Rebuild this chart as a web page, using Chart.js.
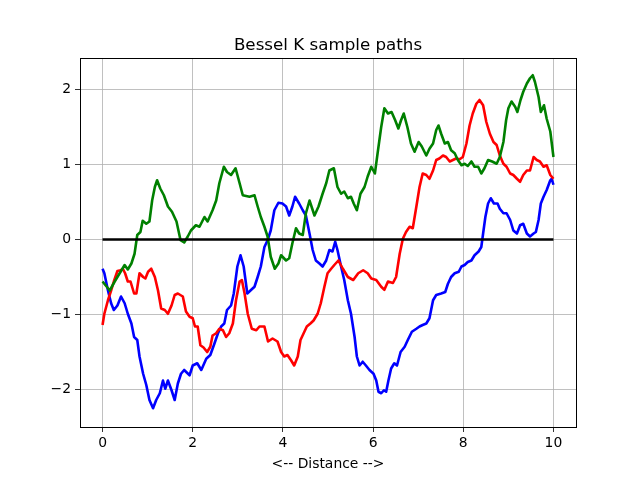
<!DOCTYPE html>
<html>
<head>
<meta charset="utf-8">
<script src="https://cdn.jsdelivr.net/npm/chart.js@4/dist/chart.umd.min.js"></script>
<style>
html,body{margin:0;padding:0;background:#fff;}
#wrap{width:640px;height:480px;}
</style>
</head>
<body>
<div id="wrap"><canvas id="c" width="640" height="480"></canvas></div>
<script>
const chartTitle = "Bessel K sample paths";
const xLabel = "<-- Distance -->";
const xTicks = [0, 2, 4, 6, 8, 10];
const yTicks = [-2, -1, 0, 1, 2];

const greenX = [0,0.16,0.27,0.38,0.49,0.56,0.64,0.71,0.77,0.84,0.89,0.97,1.04,1.10,1.16,1.21,1.28,1.36,1.45,1.54,1.64,1.73,1.81,1.89,1.96,2.07,2.15,2.26,2.33,2.44,2.52,2.59,2.69,2.76,2.85,2.95,3.04,3.11,3.26,3.37,3.44,3.51,3.59,3.66,3.73,3.82,3.90,3.96,4.07,4.14,4.21,4.29,4.36,4.44,4.51,4.59,4.70,4.79,4.88,4.96,5.03,5.13,5.21,5.29,5.36,5.44,5.51,5.57,5.64,5.72,5.81,5.88,5.96,6.04,6.10,6.18,6.25,6.33,6.41,6.49,6.56,6.62,6.68,6.76,6.84,6.92,7.01,7.08,7.18,7.25,7.33,7.40,7.45,7.51,7.59,7.66,7.73,7.81,7.88,7.96,8.03,8.10,8.18,8.25,8.33,8.40,8.47,8.55,8.64,8.74,8.81,8.89,8.95,9.00,9.07,9.15,9.20,9.27,9.33,9.41,9.48,9.54,9.59,9.67,9.72,9.79,9.85,9.93,10.0];
const greenY = [-0.56,-0.68,-0.56,-0.45,-0.34,-0.40,-0.32,-0.19,0.06,0.10,0.25,0.21,0.24,0.52,0.70,0.79,0.68,0.59,0.44,0.37,0.24,-0.01,-0.04,0.04,0.12,0.19,0.17,0.30,0.24,0.39,0.52,0.75,0.97,0.90,0.86,0.95,0.75,0.59,0.57,0.59,0.44,0.30,0.17,0.04,-0.23,-0.39,-0.32,-0.21,-0.28,-0.25,-0.05,0.15,0.08,0.06,0.35,0.52,0.32,0.44,0.61,0.75,0.92,0.95,0.70,0.61,0.64,0.55,0.57,0.48,0.39,0.61,0.70,0.84,0.97,0.88,1.15,1.50,1.75,1.68,1.70,1.59,1.48,1.59,1.68,1.50,1.28,1.17,1.30,1.24,1.12,1.21,1.28,1.46,1.52,1.41,1.28,1.30,1.19,1.15,1.06,0.99,1.01,0.98,1.04,0.97,0.97,0.88,0.95,1.06,1.04,1.01,1.10,1.30,1.59,1.75,1.84,1.77,1.70,1.86,1.97,2.08,2.15,2.19,2.10,1.90,1.70,1.79,1.61,1.44,1.10];

const redX = [0,0.04,0.12,0.19,0.25,0.33,0.40,0.45,0.50,0.56,0.62,0.70,0.75,0.82,0.90,0.95,1.01,1.08,1.16,1.23,1.30,1.38,1.45,1.53,1.60,1.67,1.78,1.85,1.93,2.00,2.05,2.11,2.17,2.24,2.32,2.39,2.44,2.52,2.59,2.67,2.74,2.81,2.89,2.96,3.04,3.09,3.15,3.22,3.31,3.41,3.48,3.59,3.67,3.77,3.88,3.96,4.03,4.10,4.18,4.25,4.33,4.39,4.46,4.53,4.61,4.68,4.77,4.84,4.92,4.99,5.07,5.14,5.23,5.33,5.44,5.56,5.67,5.78,5.88,5.96,6.07,6.18,6.25,6.33,6.44,6.51,6.59,6.66,6.73,6.81,6.88,6.96,7.03,7.10,7.18,7.25,7.33,7.40,7.47,7.55,7.62,7.70,7.77,7.84,7.92,7.99,8.07,8.14,8.21,8.29,8.36,8.44,8.51,8.59,8.67,8.74,8.81,8.89,8.96,9.04,9.11,9.19,9.26,9.33,9.41,9.48,9.56,9.63,9.70,9.78,9.85,9.93,10.0];
const redY = [-1.14,-0.99,-0.81,-0.68,-0.56,-0.42,-0.41,-0.39,-0.45,-0.56,-0.56,-0.72,-0.72,-0.45,-0.50,-0.52,-0.43,-0.39,-0.50,-0.68,-0.92,-0.94,-0.99,-0.88,-0.74,-0.72,-0.76,-0.96,-1.03,-1.05,-1.16,-1.16,-1.41,-1.44,-1.50,-1.43,-1.28,-1.25,-1.19,-1.21,-1.30,-1.25,-1.12,-0.81,-0.56,-0.54,-0.72,-0.99,-1.19,-1.21,-1.16,-1.16,-1.36,-1.32,-1.36,-1.50,-1.56,-1.54,-1.61,-1.68,-1.56,-1.34,-1.25,-1.16,-1.12,-1.08,-0.99,-0.85,-0.63,-0.45,-0.39,-0.34,-0.28,-0.39,-0.50,-0.54,-0.45,-0.41,-0.45,-0.52,-0.54,-0.63,-0.67,-0.56,-0.58,-0.50,-0.19,0.01,0.10,0.17,0.15,0.44,0.70,0.88,0.86,0.81,0.92,1.06,1.08,1.12,1.10,1.04,1.06,1.08,1.07,1.10,1.28,1.52,1.68,1.81,1.86,1.79,1.57,1.41,1.30,1.26,1.12,1.01,0.97,0.88,0.86,0.81,0.77,0.86,0.92,0.92,1.10,1.06,1.04,0.97,0.99,0.86,0.81];

const blueX = [0,0.04,0.12,0.19,0.25,0.33,0.41,0.49,0.56,0.64,0.70,0.77,0.82,0.90,0.97,1.04,1.12,1.19,1.27,1.34,1.39,1.45,1.53,1.60,1.67,1.74,1.81,1.93,2.00,2.10,2.19,2.30,2.39,2.48,2.56,2.63,2.70,2.76,2.85,2.91,2.99,3.06,3.13,3.21,3.28,3.37,3.44,3.51,3.59,3.66,3.73,3.81,3.90,3.99,4.07,4.14,4.21,4.27,4.36,4.44,4.51,4.59,4.66,4.73,4.81,4.88,4.96,5.03,5.10,5.16,5.21,5.29,5.36,5.44,5.51,5.59,5.64,5.70,5.77,5.84,5.92,6.01,6.07,6.12,6.18,6.24,6.29,6.34,6.40,6.47,6.53,6.61,6.70,6.77,6.86,6.96,7.03,7.10,7.18,7.25,7.33,7.40,7.51,7.60,7.66,7.73,7.81,7.90,7.96,8.03,8.10,8.18,8.25,8.34,8.40,8.44,8.49,8.55,8.61,8.68,8.76,8.81,8.89,8.96,9.04,9.11,9.19,9.26,9.33,9.41,9.48,9.56,9.61,9.67,9.72,9.78,9.85,9.93,9.96,10.0];
const blueY = [-0.39,-0.45,-0.68,-0.85,-0.94,-0.88,-0.76,-0.85,-0.99,-1.12,-1.30,-1.34,-1.56,-1.79,-1.94,-2.14,-2.25,-2.14,-2.05,-1.88,-1.99,-1.88,-2.01,-2.14,-1.92,-1.79,-1.74,-1.81,-1.68,-1.65,-1.74,-1.59,-1.54,-1.39,-1.25,-1.16,-1.12,-0.94,-0.88,-0.72,-0.36,-0.21,-0.36,-0.72,-0.68,-0.63,-0.50,-0.36,-0.10,-0.01,0.12,0.39,0.49,0.48,0.44,0.32,0.44,0.57,0.48,0.39,0.32,0.08,-0.14,-0.28,-0.32,-0.36,-0.28,-0.14,-0.16,-0.03,-0.14,-0.36,-0.54,-0.81,-0.99,-1.30,-1.56,-1.68,-1.63,-1.68,-1.74,-1.79,-1.88,-2.03,-2.05,-2.01,-2.03,-1.88,-1.72,-1.65,-1.68,-1.50,-1.43,-1.34,-1.23,-1.19,-1.16,-1.14,-1.12,-1.05,-0.81,-0.74,-0.72,-0.70,-0.59,-0.50,-0.45,-0.43,-0.36,-0.34,-0.30,-0.28,-0.21,-0.16,-0.10,0.08,0.30,0.48,0.55,0.48,0.48,0.41,0.35,0.35,0.26,0.12,0.08,0.19,0.21,0.08,0.04,0.08,0.10,0.26,0.48,0.57,0.66,0.79,0.81,0.73];

const zeroX = [0, 10];
const zeroY = [0, 0];

const pts = (xs, ys) => xs.map((x, i) => ({x: x, y: ys[i]}));

const FONT = "'DejaVu Sans', sans-serif";
const tickFont = {family: FONT, size: 13.9};

const framePlugin = {
  id: 'frame',
  afterDraw(chart) {
    const {ctx, chartArea: a} = chart;
    ctx.save();
    ctx.strokeStyle = '#000';
    ctx.lineWidth = 1;
    ctx.strokeRect(Math.round(a.left) + 0.5, Math.round(a.top) + 0.5, Math.round(a.right - a.left), Math.round(a.bottom - a.top));
    ctx.fillStyle = '#000';
    ctx.font = "16.7px " + FONT;
    ctx.textAlign = 'center';
    ctx.textBaseline = 'alphabetic';
    ctx.fillText(chartTitle, (a.left + a.right) / 2, a.top - 8.5);
    ctx.restore();
  }
};

new Chart(document.getElementById('c'), {
  type: 'line',
  data: {
    datasets: [
      {data: pts(zeroX, zeroY), borderColor: '#000000', order: 0},
      {data: pts(greenX, greenY), borderColor: '#008000', order: 1},
      {data: pts(redX, redY), borderColor: '#ff0000', order: 2},
      {data: pts(blueX, blueY), borderColor: '#0000ff', order: 3}
    ]
  },
  options: {
    responsive: false,
    animation: false,
    devicePixelRatio: 1,
    layout: {padding: {left: 0, right: 64, top: 58, bottom: 0}},
    elements: {
      line: {borderWidth: 2.6, tension: 0, fill: false, borderJoinStyle: 'round', borderCapStyle: 'butt'},
      point: {radius: 0, hoverRadius: 0}
    },
    plugins: {legend: {display: false}, tooltip: {enabled: false}, title: {display: false}},
    scales: {
      x: {
        type: 'linear', min: -0.5, max: 10.5,
        afterBuildTicks: s => { s.ticks = xTicks.map(v => ({value: v})); },
        afterFit: s => { s.height = 53; },
        grid: {color: '#b0b0b0', lineWidth: 0.8, drawTicks: true, tickLength: 5, tickColor: '#000'},
        border: {display: false},
        ticks: {color: '#000', font: tickFont, padding: 3, maxRotation: 0,
          callback: v => String(v).replace('-', '\u2212')},
        title: {display: true, text: xLabel, color: '#000', font: tickFont, padding: {top: 0, bottom: 7}}
      },
      y: {
        type: 'linear', min: -2.5, max: 2.42,
        afterBuildTicks: s => { s.ticks = yTicks.map(v => ({value: v})); },
        afterFit: s => { s.width = 80; },
        grid: {color: '#b0b0b0', lineWidth: 0.8, drawTicks: true, tickLength: 5, tickColor: '#000'},
        border: {display: false},
        ticks: {color: '#000', font: tickFont, padding: 4,
          callback: v => String(v).replace('-', '\u2212')}
      }
    }
  },
  plugins: [framePlugin]
});
</script>
</body>
</html>
